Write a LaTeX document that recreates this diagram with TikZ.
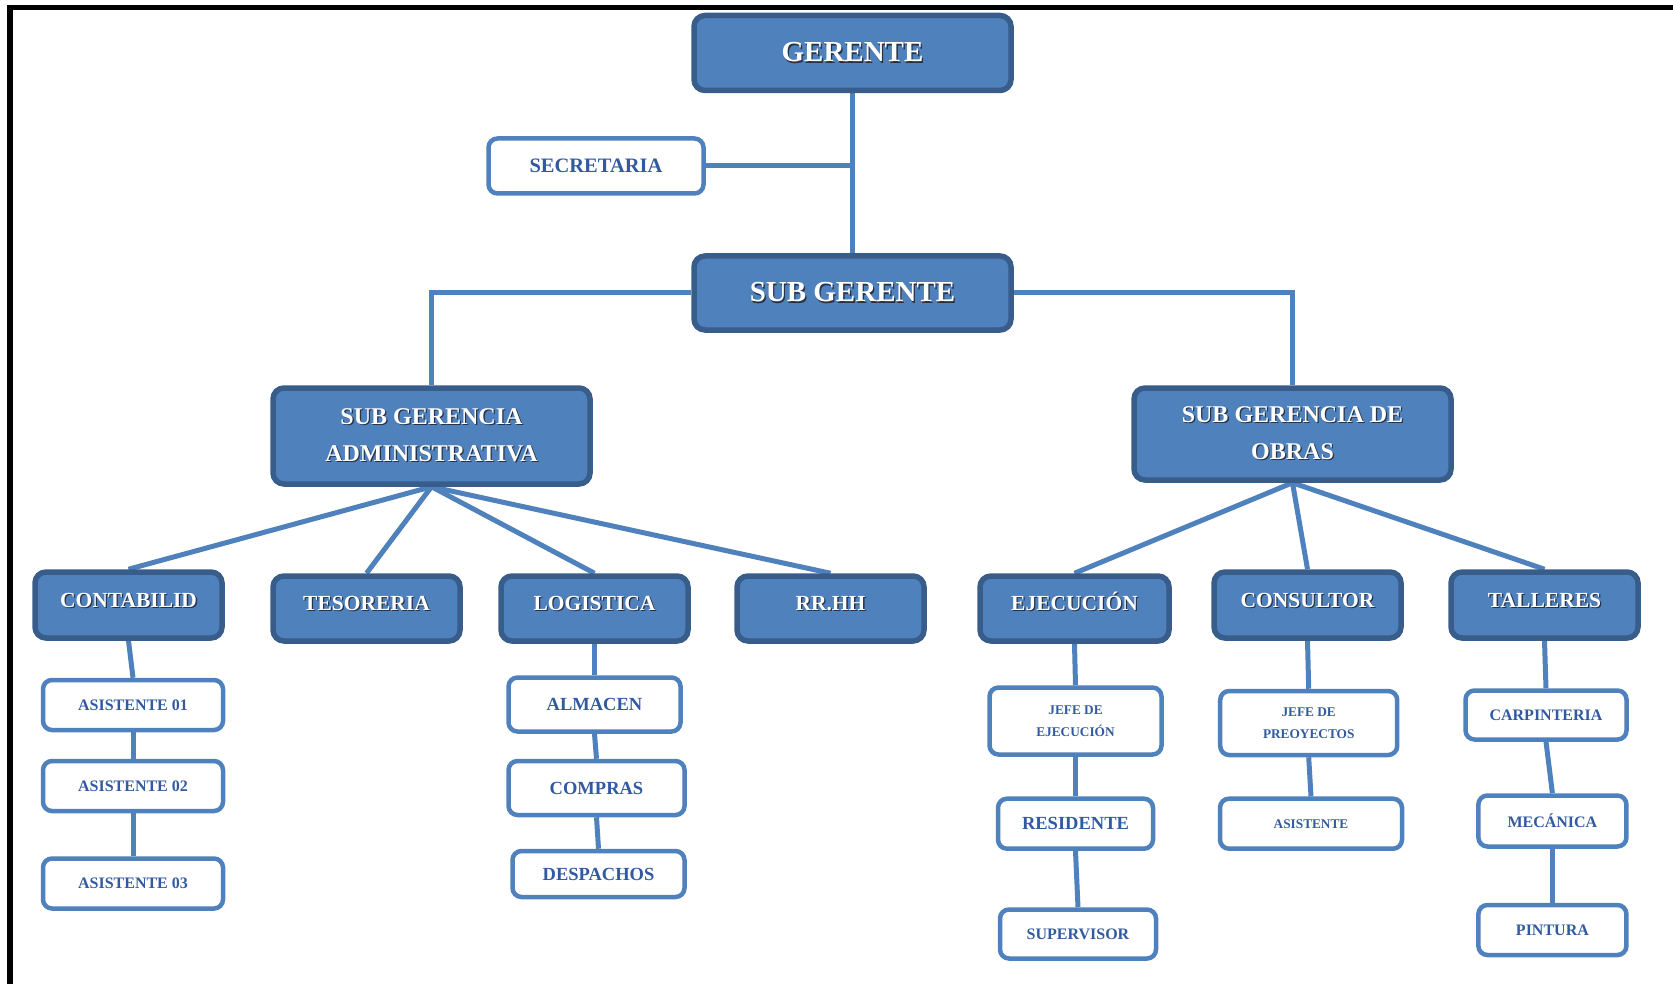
\documentclass[tikz,border=0pt]{standalone}
\usepackage{fontspec}
\setmainfont{Liberation Serif}
\usetikzlibrary{backgrounds}
\definecolor{boxblue}{HTML}{4F81BD}
\definecolor{boxedge}{HTML}{385D8A}
\definecolor{txtblue}{RGB}{50,90,160}
\definecolor{shadowc}{RGB}{40,50,70}
\newcommand\shd[1]{\leavevmode\rlap{\kern1.3pt\raisebox{-1.3pt}{\textcolor{shadowc}{#1}}}#1}
\tikzset{
  dark/.style={draw=boxedge, fill=boxblue, line width=5.5pt, rounded corners=11pt, text=white, align=center, inner sep=0pt},
  light/.style={draw=boxblue, fill=white, line width=4.5pt, rounded corners=9pt, text=txtblue, align=center, inner sep=0pt},
  link/.style={draw=boxblue, line width=5pt},
  fbig/.style={font=\bfseries\fontsize{29}{34}\selectfont},
  fmid/.style={font=\bfseries\fontsize{24}{37}\selectfont},
  fsub/.style={font=\bfseries\fontsize{21.5}{26}\selectfont, text height=15pt, text depth=11pt},
  fsec/.style={font=\bfseries\fontsize{20.5}{24}\selectfont},
  fa/.style={font=\bfseries\fontsize{18.5}{22}\selectfont},
  fb/.style={font=\bfseries\fontsize{16}{20}\selectfont},
  fc/.style={font=\bfseries\fontsize{13.3}{22.5}\selectfont},
}
\begin{document}
\begin{tikzpicture}[x=1pt,y=-1pt]
\useasboundingbox (0,0) rectangle (1673,984);
\draw[line width=5.5pt, line join=miter] (10,984) -- (10,7.5) -- (1673,7.5);

% top
\node[dark, fbig, minimum width=317pt, minimum height=75pt] (ger) at (852.5,53) {\shd{GERENTE}};
\node[light, fsec, minimum width=215pt, minimum height=55pt] (sec) at (596,166) {SECRETARIA};
\node[dark, fbig, minimum width=317pt, minimum height=74pt] (sg) at (852.5,293) {\shd{SUB GERENTE}};
\node[dark, fmid, minimum width=317pt, minimum height=96pt] (sga) at (431.5,436) {\shd{SUB GERENCIA}\\\shd{ADMINISTRATIVA}};
\node[dark, fmid, minimum width=317pt, minimum height=92pt] (sgo) at (1292.5,434) {\shd{SUB GERENCIA DE}\\\shd{OBRAS}};

% second level
\node[dark, fsub, minimum width=187pt, minimum height=66pt] (cont) at (128.5,605) {\shd{CONTABILID}};
\node[dark, fsub, minimum width=187pt, minimum height=65pt] (tes) at (366.5,608.5) {\shd{TESORERIA}};
\node[dark, fsub, minimum width=187pt, minimum height=65pt] (log) at (594.5,608.5) {\shd{LOGISTICA}};
\node[dark, fsub, minimum width=187pt, minimum height=65pt] (rrhh) at (830.5,608.5) {\shd{RR.HH}};
\node[dark, fsub, minimum width=189pt, minimum height=65pt] (ejec) at (1074.5,608.5) {\shd{EJECUCIÓN}};
\node[dark, fsub, minimum width=187pt, minimum height=66pt] (cons) at (1307.5,605) {\shd{CONSULTOR}};
\node[dark, fsub, minimum width=187pt, minimum height=66pt] (tall) at (1544.5,605) {\shd{TALLERES}};

% contabilidad
\node[light, fb, minimum width=180pt, minimum height=50pt] (a1) at (133,705) {ASISTENTE 01};
\node[light, fb, minimum width=180pt, minimum height=50pt] (a2) at (133,786) {ASISTENTE 02};
\node[light, fb, minimum width=180pt, minimum height=50pt] (a3) at (133,883.5) {ASISTENTE 03};

% logistica
\node[light, fa, minimum width=172pt, minimum height=54pt] (alm) at (594.5,704.5) {ALMACEN};
\node[light, fa, minimum width=176pt, minimum height=54pt] (com) at (596.5,788) {COMPRAS};
\node[light, fa, minimum width=172pt, minimum height=46pt] (des) at (598.5,874) {DESPACHOS};

% ejecucion
\node[light, fc, minimum width=172pt, minimum height=67pt] (jej) at (1075.5,721) {JEFE DE\\EJECUCIÓN};
\node[light, fa, minimum width=155pt, minimum height=50pt] (res) at (1075.5,823.7) {RESIDENTE};
\node[light, fb, minimum width=156pt, minimum height=49pt] (sup) at (1078,934) {SUPERVISOR};

% consultor
\node[light, fc, minimum width=177pt, minimum height=64pt] (jpr) at (1308.7,723) {JEFE DE\\PREOYECTOS};
\node[light, fc, minimum width=182pt, minimum height=50pt] (asc) at (1311,823.7) {ASISTENTE};

% talleres
\node[light, fb, minimum width=161pt, minimum height=49pt] (car) at (1546,715) {CARPINTERIA};
\node[light, fb, minimum width=148pt, minimum height=51pt] (mec) at (1552.4,821) {MECÁNICA};
\node[light, fb, minimum width=148pt, minimum height=50pt] (pin) at (1552.4,930) {PINTURA};

\begin{scope}[on background layer]
\draw[link] (ger.south) -- (sg.north);
\draw[link] (sec.east) -- (sec.east -| ger.south);
\draw[link] (sg.west) -| (sga.north);
\draw[link] (sg.east) -| (sgo.north);
\draw[link] (sga.south) -- (cont.north);
\draw[link] (sga.south) -- (tes.north);
\draw[link] (sga.south) -- (log.north);
\draw[link] (sga.south) -- (rrhh.north);
\draw[link] (sgo.south) -- (ejec.north);
\draw[link] (sgo.south) -- (cons.north);
\draw[link] (sgo.south) -- (tall.north);
\draw[link] (cont.south) -- (a1.north);
\draw[link] (a1.south) -- (a2.north);
\draw[link] (a2.south) -- (a3.north);
\draw[link] (log.south) -- (alm.north);
\draw[link] (alm.south) -- (com.north);
\draw[link] (com.south) -- (des.north);
\draw[link] (ejec.south) -- (jej.north);
\draw[link] (jej.south) -- (res.north);
\draw[link] (res.south) -- (sup.north);
\draw[link] (cons.south) -- (jpr.north);
\draw[link] (jpr.south) -- (asc.north);
\draw[link] (tall.south) -- (car.north);
\draw[link] (car.south) -- (mec.north);
\draw[link] (mec.south) -- (pin.north);
\end{scope}
\end{tikzpicture}
\end{document}
